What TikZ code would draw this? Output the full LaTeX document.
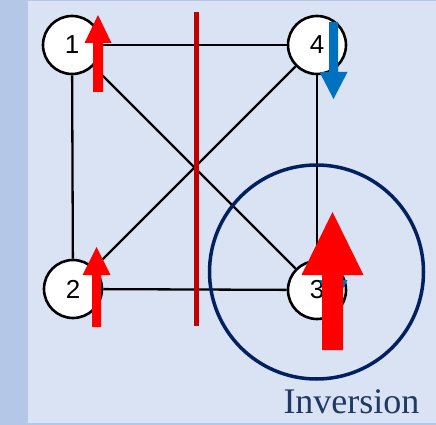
\documentclass[tikz,border=0pt]{standalone}
\usepackage{fontspec}
\setmainfont{Liberation Serif}
\setsansfont{Liberation Sans}
\usepackage{tikz}

\definecolor{panelbg}{HTML}{DAE3F3}
\definecolor{stripbg}{HTML}{B4C7E7}
\definecolor{cutred}{HTML}{C00000}
\definecolor{spinblue}{HTML}{0070C0}
\definecolor{navy}{HTML}{002060}
\definecolor{labelnavy}{HTML}{203864}

% block arrow: colour, x, tail y, head base y, tip y, half shaft, half head
\newcommand{\spinarrow}[7]{%
  \fill[#1] ({#2-#6},#3) -- ({#2-#6},#4) -- ({#2-#7},#4) -- (#2,#5)
    -- ({#2+#7},#4) -- ({#2+#6},#4) -- ({#2+#6},#3) -- cycle;}

\tikzset{
  site/.style={circle, draw=black, fill=white, line width=2.6pt,
    minimum size=58pt, inner sep=0pt, font=\sffamily\fontsize{26}{26}\selectfont},
  bond/.style={black, line width=2.3pt}
}

\begin{document}
\begin{tikzpicture}[x=1pt,y=-1pt]
\useasboundingbox (0,0) rectangle (436,425);
% background panel
\fill[panelbg] (0,0) rectangle (436,425);
\fill[stripbg] (0,0) rectangle (28,425);
\fill[stripbg] (0,0) rectangle (436,1.5);
\fill[stripbg] (0,423) rectangle (436,425);

% sites
\node[site] (n1) at (72,45) {1};
\node[site] (n4) at (317,45) {4};
\node[site] (n2) at (73,289) {2};
\node[site] (n3) at (317,290) {3};

% bonds
\draw[bond] (n1) -- (n4);
\draw[bond] (n1) -- (n2);
\draw[bond] (n2) -- (n3);
\draw[bond] (n4) -- (n3);
\draw[bond] (n1) -- (n3);
\draw[bond] (n2) -- (n4);

% cut line
\draw[cutred, line width=5pt] (196.5,12) -- (196.5,326);

% inversion circle
\draw[navy, line width=3.5pt] (316.5,272) circle (107);

% spins
\spinarrow{red}{98}{92}{43}{15}{5}{13.5}
\spinarrow{red}{96.5}{327}{275}{247}{4.5}{14}
\spinarrow{spinblue}{333.5}{22}{72}{99}{4.5}{14}
\spinarrow{spinblue}{333.5}{230}{280}{307}{4.5}{14}
\spinarrow{red}{332.5}{350}{275}{212}{10.5}{31}

% label
\node[labelnavy, font=\fontsize{36}{36}\selectfont, anchor=base east] (lbl) at (423,413) {Inversion};
\end{tikzpicture}
\end{document}
